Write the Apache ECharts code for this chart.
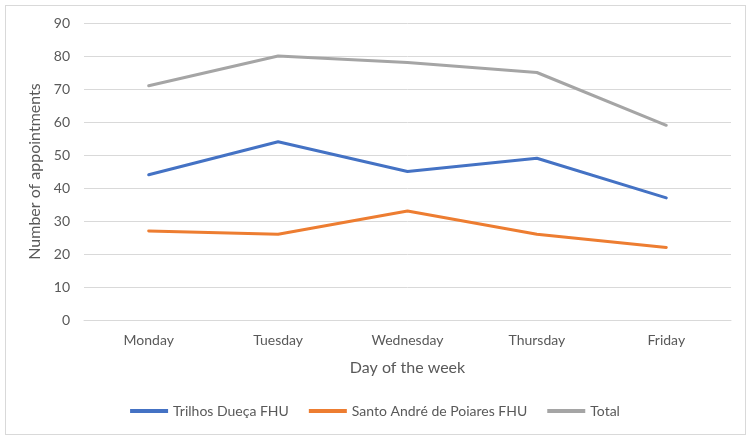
<!DOCTYPE html>
<html>
<head>
<meta charset="utf-8">
<script src="https://cdn.jsdelivr.net/npm/echarts@6/dist/echarts.min.js"></script>
<style>
  html, body { margin: 0; padding: 0; background: #fff; }
  #main { width: 750px; height: 438px; }
  .frame { position: absolute; left: 5px; top: 5px; width: 739px; height: 428px; border: 1px solid #d9d9d9; pointer-events: none; }
</style>
</head>
<body>
<div id="main"></div>
<div class="frame"></div>
<script>
var days = ['Monday', 'Tuesday', 'Wednesday', 'Thursday', 'Friday'];
var trilhos = [44, 54, 45, 49, 37];
var santoAndre = [27, 26, 33, 26, 22];
var total = [71, 80, 78, 75, 59];

var font = 'Lato';
var textColor = '#595959';

var chart = echarts.init(document.getElementById('main'));

function line(name, data, color) {
    return {
        name: name,
        type: 'line',
        data: data,
        showSymbol: false,
        symbol: 'none',
        lineStyle: { width: 3, color: color, cap: 'round' },
        itemStyle: { color: color },
        animation: false
    };
}

chart.setOption({
    grid: { left: 84, right: 19, top: 23, bottom: 118 },
    legend: {
        bottom: 15,
        left: 'center',
        itemWidth: 38,
        itemHeight: 4,
        itemGap: 20,
        icon: 'rect',
        textStyle: { fontFamily: font, fontSize: 14, color: textColor },
        data: ['Trilhos Dueça FHU', 'Santo André de Poiares FHU', 'Total']
    },
    xAxis: {
        type: 'category',
        data: days,
        boundaryGap: true,
        name: 'Day of the week',
        nameLocation: 'middle',
        nameGap: 40,
        nameTextStyle: { fontFamily: font, fontSize: 16, color: textColor },
        axisLine: { show: true, lineStyle: { color: '#d9d9d9' } },
        axisTick: { show: false },
        axisLabel: { fontFamily: font, fontSize: 14, color: textColor, margin: 13 }
    },
    yAxis: {
        type: 'value',
        min: 0,
        max: 90,
        interval: 10,
        name: 'Number of appointments',
        nameLocation: 'middle',
        nameGap: 38,
        nameTextStyle: { fontFamily: font, fontSize: 16, color: textColor },
        axisLine: { show: false },
        axisTick: { show: false },
        axisLabel: { fontFamily: font, fontSize: 14, color: textColor, margin: 14 },
        splitLine: { lineStyle: { color: '#d9d9d9', width: 1 } }
    },
    series: [
        line('Trilhos Dueça FHU', trilhos, '#4472C4'),
        line('Santo André de Poiares FHU', santoAndre, '#ED7D31'),
        line('Total', total, '#A5A5A5')
    ]
});
</script>
</body>
</html>
